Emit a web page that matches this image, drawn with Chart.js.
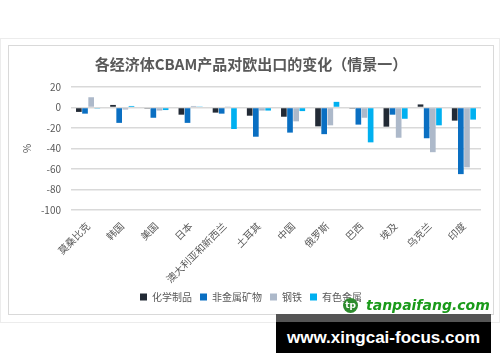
<!DOCTYPE html>
<html>
<head>
<meta charset="utf-8">
<script src="https://cdn.jsdelivr.net/npm/chart.js@4.4.1/dist/chart.umd.min.js"></script>
<style>
  body { margin: 0; width: 500px; height: 362px; background: #fff; position: relative; overflow: hidden; font-family: "Noto Sans CJK SC", sans-serif; }
  .outer { position: absolute; left: 0; top: 38px; width: 498px; height: 283px; border: 1px solid #ececec; }
  .frame { position: absolute; left: 8px; top: 45px; width: 484px; height: 268px; border: 1px solid #d9d9d9; }
  #wrap { position: absolute; left: 9px; top: 46px; width: 484px; height: 268px; }
  .logo { position: absolute; left: 343px; top: 296px; height: 18px; display: flex; align-items: center; white-space: nowrap; }
  .logo .dot { width: 15px; height: 15px; border-radius: 50%; background: #2e8b2e; color: #fff; font: bold 9px "DejaVu Sans"; display: flex; align-items: center; justify-content: center; margin-right: 8px; }
  .logo .txt { color: #1a9a1a; font: italic bold 14px "DejaVu Sans"; }
  .band { position: absolute; left: 276px; top: 314px; width: 215px; height: 8px; background: #555; }
  .box { position: absolute; left: 276px; top: 322px; width: 215px; height: 31px; background: #000; color: #fff; font: bold 17px "Liberation Sans"; white-space: nowrap; display: flex; align-items: center; justify-content: center; }
</style>
</head>
<body>
<div class="outer"></div>
<div class="frame"></div>
<div id="wrap"><canvas id="c"></canvas></div>
<div class="logo"><div class="dot">tp</div><div class="txt">tanpaifang.com</div></div>
<div class="band"></div>
<div class="box">www.xingcai-focus.com</div>
<script>
const regions = ["莫桑比克", "韩国", "美国", "日本", "澳大利亚和新西兰", "土耳其", "中国", "俄罗斯", "巴西", "埃及", "乌克兰", "印度"];
const chemicals = [-4.3, 2.5, -1, -7, -5, -8, -9, -18.4, -1, -18.7, 3, -12.8];
const minerals = [-6, -15, -10, -15, -6, -28.5, -24.5, -26, -16.7, -7, -30, -65];
const steel = [10, -2, -3, 1.5, 1, -3, -13.5, -17.4, -10, -29.5, -43.6, -58.4];
const nonferrous = [-1, 1.5, -2.5, 0.5, -21, -3, -3.5, 5.5, -34, -11, -17.4, -11.8];
const yTicks = [20, 0, -20, -40, -60, -80, -100];

const seriesNames = ["化学制品", "非金属矿物", "钢铁", "有色金属"];
const seriesColors = ["#222a35", "#0a6fc2", "#adb9ca", "#00b0f0"];
const seriesData = [chemicals, minerals, steel, nonferrous];

const textColor = "#595959";
const font = "'Noto Sans CJK SC', sans-serif";

new Chart(document.getElementById("c"), {
  type: "bar",
  data: {
    labels: regions,
    datasets: seriesData.map((d, i) => ({
      label: seriesNames[i],
      data: d,
      backgroundColor: seriesColors[i],
      categoryPercentage: 0.72,
      barPercentage: 0.92
    }))
  },
  options: {
    responsive: true,
    maintainAspectRatio: false,
    animation: false,
    layout: { padding: { left: 12, right: 12, top: 0, bottom: 2 } },
    plugins: {
      title: {
        display: true,
        text: "各经济体CBAM产品对欧出口的变化（情景一）",
        color: textColor,
        font: { family: font, size: 15, weight: "bold" },
        padding: { top: 9, bottom: 14 }
      },
      legend: {
        position: "bottom",
        labels: {
          color: textColor,
          font: { family: font, size: 10 },
          boxWidth: 7,
          boxHeight: 7,
          padding: 8
        }
      },
      tooltip: { enabled: false }
    },
    scales: {
      x: {
        grid: { display: false },
        border: { display: false },
        ticks: {
          color: textColor,
          font: { family: font, size: 10 },
          minRotation: 45,
          maxRotation: 45,
          padding: 2
        },
        afterFit: s => { s.height = 74; }
      },
      y: {
        min: -100,
        max: 20,
        afterBuildTicks: s => { s.ticks = yTicks.map(v => ({ value: v })); },
        grid: { color: "#d9d9d9", lineWidth: 1.5, drawTicks: false },
        border: { display: false },
        ticks: {
          color: textColor,
          font: { family: font, size: 10 },
          padding: 10
        },
        title: {
          display: true,
          text: "%",
          color: textColor,
          font: { family: font, size: 10 },
          padding: { top: 0, bottom: 12 }
        },
        afterFit: s => { s.width = 50; }
      }
    }
  }
});
</script>
</body>
</html>
